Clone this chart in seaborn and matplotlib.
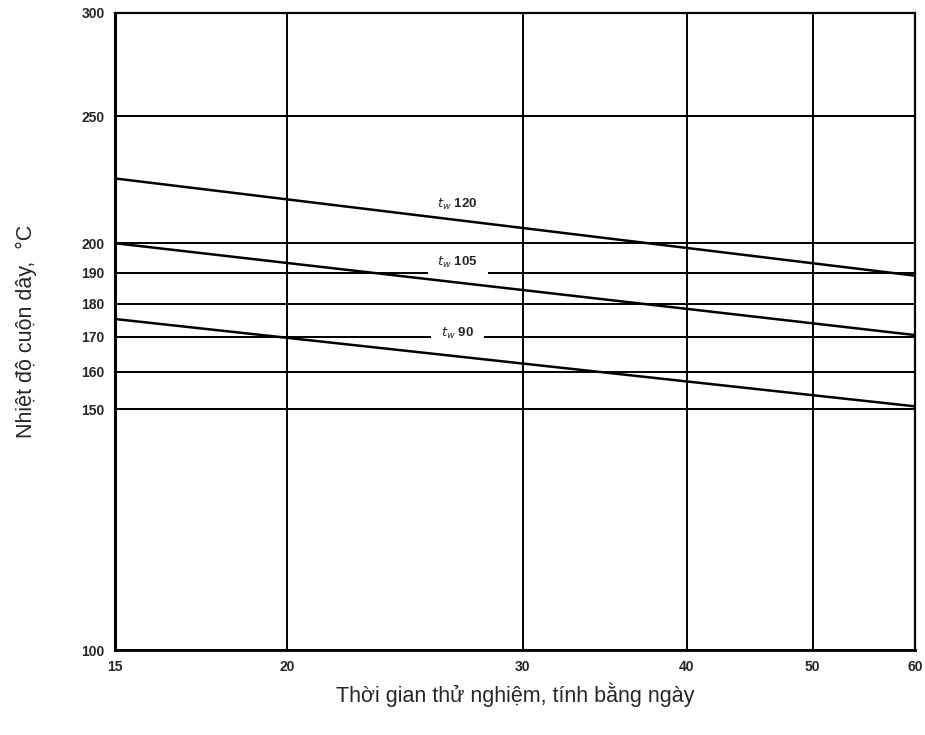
import matplotlib
matplotlib.use("Agg")
import matplotlib.pyplot as plt
import matplotlib.ticker as mticker
import seaborn as sns
import pandas as pd
import numpy as np

# data (straight lines between 15 and 60 days)
days = [15, 60]
tw120 = [224, 189]
tw105 = [200, 170.5]
tw90 = [175.3, 150.8]
class_names = ["120", "105", "90"]

x_ticks = [15, 20, 30, 40, 50, 60]
y_ticks = [100, 150, 160, 170, 180, 190, 200, 250, 300]

# label anchors (days, temperature)
label_x = [26.8, 26.8, 26.8]
label_y = [214, 193.5, 171.1]

sns.set_style("white")
plt.rcParams["font.family"] = ["Liberation Sans", "DejaVu Sans"]

df = pd.DataFrame({
    "days": days * 3,
    "temp": tw120 + tw105 + tw90,
    "cls": [c for c in class_names for _ in days],
})

fig = plt.figure(figsize=(9.25, 7.35), dpi=100)
ax = fig.add_axes([115 / 925, 85 / 735, 800 / 925, 637 / 735])

# the printed chart uses a slightly shifted log ruling on both axes
ax.set_xscale("function", functions=(lambda v: np.log10(np.maximum(v - 1.5, 1e-6)),
                                     lambda v: 10 ** v + 1.5))
ax.set_yscale("function", functions=(lambda v: np.log10(np.maximum(v - 10, 1e-6)),
                                     lambda v: 10 ** v + 10))

sns.lineplot(data=df, x="days", y="temp", units="cls", estimator=None,
             color="black", linewidth=1.8, ax=ax, legend=False, zorder=3)

ax.set_xlim(15, 60)
ax.set_ylim(100, 300)
ax.xaxis.set_major_locator(mticker.FixedLocator(x_ticks))
ax.yaxis.set_major_locator(mticker.FixedLocator(y_ticks))
ax.xaxis.set_minor_locator(mticker.NullLocator())
ax.yaxis.set_minor_locator(mticker.NullLocator())
ax.set_xticklabels([str(v) for v in x_ticks], fontsize=10, fontweight="bold")
ax.set_yticklabels([str(v) for v in y_ticks], fontsize=10, fontweight="bold")
ax.tick_params(axis="both", direction="inout", length=7, width=1.2, color="black", pad=4)

ax.set_axisbelow(True)
ax.grid(True, color="black", linewidth=1.4)
for s in ax.spines.values():
    s.set_color("black")
    s.set_linewidth(1.6)
ax.spines["left"].set_linewidth(2.2)
ax.spines["bottom"].set_linewidth(2.0)

# labels sit over the grid (white gap) but under the curves
for name, lx, ly in zip(class_names, label_x, label_y):
    ax.text(lx, ly, r"$t_w$ " + name, fontsize=9.5, fontweight="bold",
            ha="center", va="center", zorder=2,
            bbox=dict(facecolor="white", edgecolor="none", pad=7))

ax.set_xlabel("Thời gian thử nghiệm, tính bằng ngày", fontsize=15.5, labelpad=6)
ax.set_ylabel("Nhiệt độ cuộn dây,  °C", fontsize=15.5, labelpad=32)

fig.savefig("out.png", dpi=100)
